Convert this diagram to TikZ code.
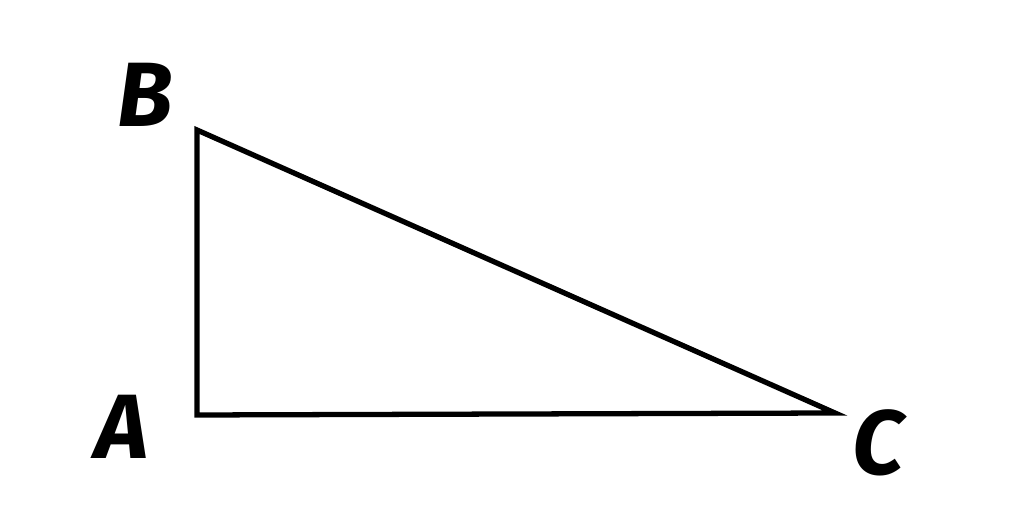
\documentclass[tikz,border=0pt]{standalone}
\usepackage{fontspec}
\setmainfont{Fira Sans}
\usepackage{tikz}
\usetikzlibrary{calc}

\begin{document}
\begin{tikzpicture}
\useasboundingbox (0,0) rectangle (10.24,5.05);
\tikzset{vlabel/.style={font=\fontsize{26}{26}\selectfont\bfseries\itshape, inner sep=0pt}}
\coordinate (A) at (1.97,0.90); %right angle
\coordinate (B) at (1.97,3.75);
\coordinate (C) at (8.35,0.92);
\draw[line width=1.5pt, line join=miter] (A) -- (B) -- (C) -- cycle;
\node[vlabel] (la) at (1.22,0.78) {A};
\node[vlabel] (lb) at (1.45,4.10) {B};
\node[vlabel] (lc) at (8.78,0.62) {C};
\end{tikzpicture}
\end{document}
